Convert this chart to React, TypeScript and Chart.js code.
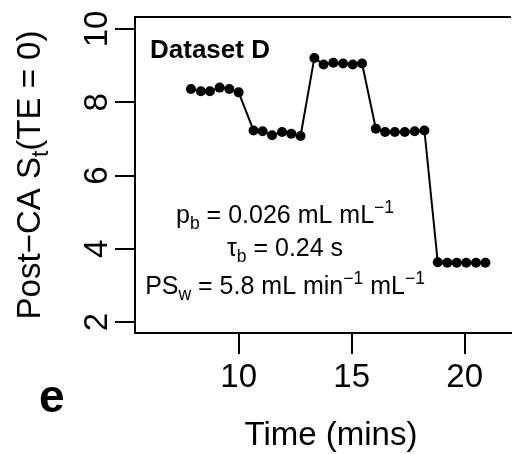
import React, { useEffect, useRef } from "react";
import { Chart, registerables } from "chart.js";

Chart.register(...registerables);

const FAM = "'Liberation Sans', Arial, Helvetica, sans-serif";

const timeMins = [
  7.89, 8.33, 8.73, 9.16, 9.59, 10.0,
  10.66, 11.06, 11.48, 11.92, 12.33, 12.74,
  13.35, 13.76, 14.19, 14.62, 15.05, 15.46,
  16.07, 16.48, 16.91, 17.35, 17.79, 18.22,
  18.81, 19.23, 19.65, 20.07, 20.5, 20.92,
];
const postCaSignal = [
  8.36, 8.3, 8.3, 8.4, 8.36, 8.27,
  7.23, 7.21, 7.1, 7.19, 7.14, 7.08,
  9.21, 9.03, 9.08, 9.06, 9.03, 9.06,
  7.28, 7.19, 7.19, 7.19, 7.21, 7.23,
  3.63, 3.62, 3.62, 3.62, 3.62, 3.62,
];
const xTicks = [10, 15, 20];
const yTicks = [2, 4, 6, 8, 10];
const panelTitle = "Dataset D";
const panelLetter = "e";
const xTitle = "Time (mins)";

type Seg = { t: string; m?: "sub" | "sup" };
const yTitle: Seg[] = [{ t: "Post\u2212CA S" }, { t: "t", m: "sub" }, { t: "(TE = 0)" }];
const annotation: Seg[][] = [
  [{ t: "p" }, { t: "b", m: "sub" }, { t: " = 0.026 mL mL" }, { t: "\u22121", m: "sup" }],
  [{ t: "\u03c4" }, { t: "b", m: "sub" }, { t: " = 0.24 s" }],
  [
    { t: "PS" }, { t: "w", m: "sub" }, { t: " = 5.8 mL min" }, { t: "\u22121", m: "sup" },
    { t: " mL" }, { t: "\u22121", m: "sup" },
  ],
];

function drawRich(ctx: CanvasRenderingContext2D, segs: Seg[], x: number, y: number, size: number) {
  const widths = segs.map((s) => {
    const fs = s.m ? size * 0.7 : size;
    ctx.font = `${fs}px ${FAM}`;
    return ctx.measureText(s.t).width;
  });
  const total = widths.reduce((a, b) => a + b, 0);
  let cur = x - total / 2;
  ctx.textAlign = "left";
  ctx.textBaseline = "alphabetic";
  segs.forEach((s, i) => {
    const fs = s.m ? size * 0.7 : size;
    ctx.font = `${fs}px ${FAM}`;
    const dy = s.m === "sub" ? size * 0.25 : s.m === "sup" ? -size * 0.42 : 0;
    ctx.fillText(s.t, cur, y + dy);
    cur += widths[i];
  });
}

const textPlugin = {
  id: "textPlugin",
  afterDraw(chart: any) {
    const ctx: CanvasRenderingContext2D = chart.ctx;
    const { left, top, right } = chart.chartArea;
    const xs = chart.scales.x;
    const ys = chart.scales.y;
    ctx.save();
    ctx.fillStyle = "#000";
    ctx.strokeStyle = "#000";
    ctx.lineWidth = 2;
    ctx.beginPath();
    ctx.moveTo(left - 1, top);
    ctx.lineTo(right, top);
    ctx.stroke();

    ctx.font = `33px ${FAM}`;
    ctx.textAlign = "center";
    ctx.textBaseline = "alphabetic";
    xTicks.forEach((v) => ctx.fillText(String(v), xs.getPixelForValue(v), 387));
    ctx.fillText(xTitle, 331, 445);

    yTicks.forEach((v) => {
      ctx.save();
      ctx.translate(107, ys.getPixelForValue(v));
      ctx.rotate(-Math.PI / 2);
      ctx.font = `33px ${FAM}`;
      ctx.textAlign = "center";
      ctx.fillText(String(v), 0, 0);
      ctx.restore();
    });

    ctx.save();
    ctx.translate(40, 175);
    ctx.rotate(-Math.PI / 2);
    drawRich(ctx, yTitle, 0, 0, 33);
    ctx.restore();

    ctx.font = `bold 26px ${FAM}`;
    ctx.textAlign = "left";
    ctx.fillText(panelTitle, 150, 58);

    const baselines = [223, 256, 294];
    annotation.forEach((line, i) => drawRich(ctx, line, 285, baselines[i], 25));

    ctx.font = `bold 46px ${FAM}`;
    ctx.textAlign = "left";
    ctx.fillText(panelLetter, 39, 412);
    ctx.restore();
  },
};

export default function App() {
  const ref = useRef<HTMLCanvasElement | null>(null);
  useEffect(() => {
    if (!ref.current) return;
    const chart = new Chart(ref.current, {
      type: "line",
      data: {
        datasets: [
          {
            data: timeMins.map((t, i) => ({ x: t, y: postCaSignal[i] })),
            borderColor: "#000",
            borderWidth: 2,
            backgroundColor: "#000",
            pointBackgroundColor: "#000",
            pointBorderColor: "#000",
            pointRadius: 5,
            pointBorderWidth: 0,
            tension: 0,
          },
        ],
      },
      options: {
        responsive: false,
        animation: false,
        layout: { padding: { top: 17, left: 0, right: 0, bottom: 0 } },
        plugins: { legend: { display: false }, tooltip: { enabled: false } },
        scales: {
          x: {
            type: "linear",
            min: 5.415,
            max: 22.05,
            afterBuildTicks: (s: any) => {
              s.ticks = xTicks.map((v) => ({ value: v }));
            },
            afterFit: (s: any) => {
              s.height = 121;
            },
            ticks: { display: false },
            grid: { display: true, drawOnChartArea: false, drawTicks: true, tickLength: 21, color: "#000", lineWidth: 2 },
            border: { display: true, color: "#000", width: 2 },
          },
          y: {
            type: "linear",
            min: 1.7,
            max: 10.328,
            afterBuildTicks: (s: any) => {
              s.ticks = yTicks.map((v) => ({ value: v }));
            },
            afterFit: (s: any) => {
              s.width = 135;
            },
            ticks: { display: false },
            grid: { display: true, drawOnChartArea: false, drawTicks: true, tickLength: 20, color: "#000", lineWidth: 2 },
            border: { display: true, color: "#000", width: 2 },
          },
        },
      },
      plugins: [textPlugin],
    });
    return () => chart.destroy();
  }, []);
  return (
    <div style={{ position: "fixed", left: 0, top: 0, width: 516, height: 454, background: "#fff" }}>
      <canvas ref={ref} width={516} height={454} style={{ display: "block" }} />
    </div>
  );
}
